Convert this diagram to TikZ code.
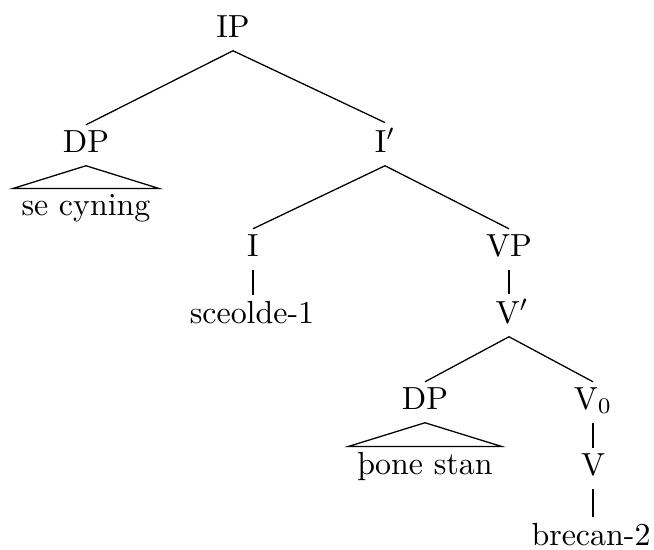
\documentclass[tikz,border=0pt]{standalone}
\usepackage{amsmath,amssymb}
\usepackage{fontspec}
\usepackage{tikz}
\begin{document}
\begin{tikzpicture}[x=0.011cm,y=-0.011cm, lbl/.style={anchor=base,
    inner xsep=2.6pt, inner ysep=1.5pt, text depth=2.6pt}]
  \useasboundingbox (0,0) rectangle (654,549);
  % labels of the tree
  \node [lbl] (ip) at (233,37) {IP};
  \node [lbl] (dpa) at (86,152) {DP}; \node [lbl] (ibar) at (385,152)
  {I$'$}; \node [lbl] (secyn) at (86,215) {se cyning};
  \node [lbl] (i) at (253,256) {I}; \node [lbl] (vp) at (509,256) {VP};
  \node [lbl] (sceolde) at (252,323) {sceolde-1}; \node [lbl] (vbar) at
  (512,323) {V$'$}; \node [lbl] (dpb) at (425,409) {DP};
  \node [lbl] (vnull) at (593,409) {V$_0$}; \node [lbl] (stan) at
  (425,474) {þone stan}; \node [lbl] (v) at (593,475) {V};
  \node [lbl] (brecan) at (591,545) {brecan-2};
  % branches
  \draw (dpa.north) -- (ip.south) -- (ibar.north); \draw (i.north) --
  (ibar.south) -- (vp.north); \draw (i.south) -- (i.south |-
  sceolde.north); \draw (vp.south) -- (vp.south |- vbar.north);
  \draw (dpb.north) -- (vp.south |- vbar.south) -- (vnull.north);
  \draw (vnull.south) -- (v.north); \draw (v.south) -- (v.south |-
  brecan.north);
  % roofs
  \draw (dpa.south) -- (secyn.north east) -- (secyn.north west) --
  cycle; \draw (dpb.south) -- (stan.north east) -- (stan.north west)
  -- cycle;
\end{tikzpicture}
\end{document}
